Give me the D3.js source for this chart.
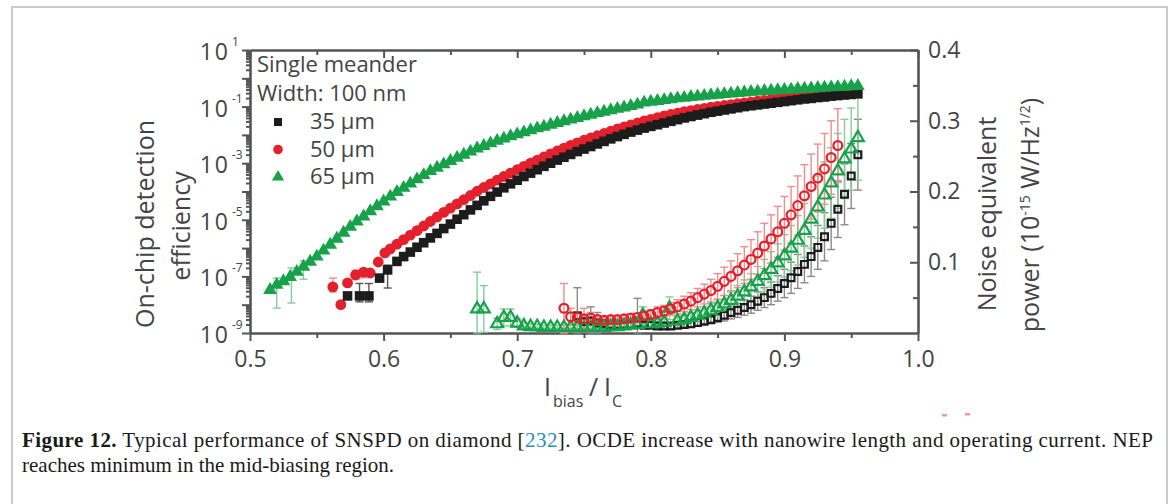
<!DOCTYPE html>
<html>
<head>
<meta charset="utf-8">
<script src="https://cdn.jsdelivr.net/npm/d3@7"></script>
<style>
  body { margin: 0; background: #fff; }
  svg { display: block; }
</style>
</head>
<body>
<script>
// on-chip detection efficiency: [I_bias/I_c, log10(OCDE)]
const effGreen = [[0.515,-7.48],[0.520,-7.30],[0.525,-7.17],[0.530,-7.02],[0.535,-6.84],[0.540,-6.66],[0.545,-6.48],[0.550,-6.30],[0.555,-6.09],[0.560,-5.88],[0.565,-5.67],[0.570,-5.46],[0.575,-5.25],[0.580,-5.06],[0.585,-4.88],[0.590,-4.70],[0.595,-4.52],[0.600,-4.35],[0.605,-4.18],[0.610,-4.02],[0.615,-3.87],[0.620,-3.72],[0.625,-3.57],[0.630,-3.42],[0.635,-3.28],[0.640,-3.16],[0.645,-3.04],[0.650,-2.92],[0.655,-2.81],[0.660,-2.70],[0.665,-2.59],[0.670,-2.48],[0.675,-2.39],[0.680,-2.30],[0.685,-2.21],[0.690,-2.13],[0.695,-2.05],[0.700,-1.98],[0.705,-1.91],[0.710,-1.84],[0.715,-1.77],[0.720,-1.71],[0.725,-1.64],[0.730,-1.58],[0.735,-1.52],[0.740,-1.46],[0.745,-1.40],[0.750,-1.34],[0.755,-1.29],[0.760,-1.23],[0.765,-1.18],[0.770,-1.13],[0.775,-1.08],[0.780,-1.03],[0.785,-0.98],[0.790,-0.93],[0.795,-0.86],[0.800,-0.83],[0.805,-0.80],[0.810,-0.77],[0.815,-0.74],[0.820,-0.71],[0.825,-0.69],[0.830,-0.66],[0.835,-0.64],[0.840,-0.62],[0.845,-0.60],[0.850,-0.58],[0.855,-0.56],[0.860,-0.54],[0.865,-0.52],[0.870,-0.50],[0.875,-0.48],[0.880,-0.47],[0.885,-0.45],[0.890,-0.44],[0.895,-0.42],[0.900,-0.41],[0.905,-0.40],[0.910,-0.38],[0.915,-0.37],[0.920,-0.36],[0.925,-0.34],[0.930,-0.33],[0.935,-0.32],[0.940,-0.31],[0.945,-0.30],[0.950,-0.28],[0.955,-0.27]];
const effRed = [[0.562,-7.37],[0.568,-8.00],[0.573,-7.23],[0.579,-6.95],[0.585,-6.85],[0.590,-6.88],[0.596,-6.49],[0.601,-6.17],[0.605,-6.03],[0.610,-5.86],[0.615,-5.70],[0.620,-5.54],[0.625,-5.38],[0.630,-5.22],[0.635,-5.06],[0.640,-4.90],[0.645,-4.74],[0.650,-4.59],[0.655,-4.44],[0.660,-4.29],[0.665,-4.14],[0.670,-3.99],[0.675,-3.86],[0.680,-3.73],[0.685,-3.60],[0.690,-3.47],[0.695,-3.35],[0.700,-3.23],[0.705,-3.11],[0.710,-3.00],[0.715,-2.89],[0.720,-2.78],[0.725,-2.67],[0.730,-2.57],[0.735,-2.47],[0.740,-2.37],[0.745,-2.28],[0.750,-2.19],[0.755,-2.11],[0.760,-2.03],[0.765,-1.95],[0.770,-1.87],[0.775,-1.79],[0.780,-1.72],[0.785,-1.65],[0.790,-1.58],[0.795,-1.51],[0.800,-1.45],[0.805,-1.39],[0.810,-1.33],[0.815,-1.28],[0.820,-1.23],[0.825,-1.18],[0.830,-1.14],[0.835,-1.10],[0.840,-1.06],[0.845,-1.02],[0.850,-0.99],[0.855,-0.96],[0.860,-0.93],[0.865,-0.90],[0.870,-0.87],[0.875,-0.84],[0.880,-0.81],[0.885,-0.78],[0.890,-0.75],[0.895,-0.72],[0.900,-0.69],[0.905,-0.67],[0.910,-0.65],[0.915,-0.63],[0.920,-0.61],[0.925,-0.59],[0.930,-0.57],[0.935,-0.56],[0.940,-0.54],[0.945,-0.53]];
const effBlack = [[0.573,-7.69],[0.582,-7.69],[0.589,-7.69],[0.597,-7.06],[0.603,-6.77],[0.610,-6.47],[0.615,-6.30],[0.620,-6.14],[0.625,-5.97],[0.630,-5.81],[0.635,-5.64],[0.640,-5.48],[0.645,-5.31],[0.650,-5.15],[0.655,-4.98],[0.660,-4.82],[0.665,-4.65],[0.670,-4.49],[0.675,-4.33],[0.680,-4.17],[0.685,-4.02],[0.690,-3.87],[0.695,-3.73],[0.700,-3.60],[0.705,-3.47],[0.710,-3.35],[0.715,-3.23],[0.720,-3.11],[0.725,-3.00],[0.730,-2.89],[0.735,-2.79],[0.740,-2.69],[0.745,-2.59],[0.750,-2.50],[0.755,-2.41],[0.760,-2.32],[0.765,-2.23],[0.770,-2.14],[0.775,-2.06],[0.780,-1.98],[0.785,-1.90],[0.790,-1.83],[0.795,-1.76],[0.800,-1.70],[0.805,-1.64],[0.810,-1.58],[0.815,-1.52],[0.820,-1.46],[0.825,-1.40],[0.830,-1.35],[0.835,-1.30],[0.840,-1.25],[0.845,-1.20],[0.850,-1.16],[0.855,-1.12],[0.860,-1.08],[0.865,-1.04],[0.870,-1.00],[0.875,-0.97],[0.880,-0.94],[0.885,-0.91],[0.890,-0.88],[0.895,-0.85],[0.900,-0.82],[0.905,-0.79],[0.910,-0.76],[0.915,-0.73],[0.920,-0.71],[0.925,-0.68],[0.930,-0.66],[0.935,-0.63],[0.940,-0.61],[0.945,-0.59],[0.950,-0.57],[0.955,-0.55]];

// efficiency error bars: [x, log10 low, log10 high]
const effErrGreen = [[0.520,-8.12,-7.06],[0.531,-7.94,-6.70],[0.540,-7.10,-6.45]];
const effErrRed = [[0.562,-7.55,-7.06],[0.579,-7.10,-6.78],[0.585,-7.05,-6.74]];
const effErrBlack = [[0.582,-7.90,-7.25],[0.589,-7.90,-7.25],[0.603,-7.41,-6.60]];

// noise equivalent power (1e-15 W/Hz^1/2): [x, NEP, error]
const nepGreen = [[0.670,0.034,0.052],[0.675,0.034,0.033],[0.685,0.013,0.008],[0.690,0.022,0.012],[0.695,0.022,0.012],[0.700,0.014,0.006],[0.705,0.010,0.004],[0.710,0.009,0.004],[0.715,0.009,0.003],[0.720,0.008,0.003],[0.725,0.008,0.003],[0.730,0.008,0.003],[0.735,0.008,0.003],[0.740,0.008,0.003],[0.745,0.008,0.003],[0.750,0.008,0.003],[0.755,0.008,0.003],[0.760,0.008,0.003],[0.765,0.008,0.003],[0.770,0.009,0.003],[0.775,0.009,0.003],[0.780,0.010,0.004],[0.785,0.011,0.004],[0.790,0.012,0.004],[0.794,0.025,0.012],[0.800,0.013,0.004],[0.805,0.014,0.005],[0.810,0.015,0.005],[0.814,0.035,0.016],[0.820,0.017,0.006],[0.825,0.019,0.006],[0.830,0.022,0.007],[0.835,0.025,0.008],[0.840,0.028,0.009],[0.845,0.032,0.010],[0.850,0.036,0.011],[0.855,0.041,0.012],[0.860,0.046,0.014],[0.865,0.052,0.015],[0.870,0.058,0.017],[0.875,0.065,0.019],[0.880,0.073,0.021],[0.885,0.081,0.023],[0.890,0.090,0.025],[0.895,0.099,0.027],[0.900,0.109,0.030],[0.905,0.120,0.032],[0.910,0.131,0.035],[0.915,0.145,0.038],[0.920,0.161,0.041],[0.925,0.178,0.044],[0.930,0.195,0.047],[0.935,0.212,0.050],[0.940,0.229,0.053],[0.945,0.246,0.056],[0.950,0.260,0.058],[0.955,0.276,0.060]];
const nepRed = [[0.735,0.035,0.035],[0.740,0.023,0.012],[0.745,0.022,0.008],[0.750,0.020,0.015],[0.755,0.021,0.008],[0.760,0.019,0.006],[0.765,0.018,0.005],[0.770,0.019,0.005],[0.775,0.019,0.005],[0.780,0.020,0.005],[0.785,0.021,0.006],[0.790,0.022,0.006],[0.795,0.024,0.007],[0.800,0.026,0.007],[0.805,0.029,0.008],[0.810,0.031,0.008],[0.815,0.034,0.009],[0.820,0.037,0.010],[0.825,0.041,0.011],[0.830,0.045,0.012],[0.835,0.050,0.013],[0.840,0.055,0.014],[0.845,0.060,0.016],[0.850,0.066,0.018],[0.855,0.073,0.020],[0.860,0.080,0.022],[0.865,0.088,0.024],[0.870,0.096,0.026],[0.875,0.104,0.028],[0.880,0.113,0.030],[0.885,0.123,0.032],[0.890,0.133,0.034],[0.895,0.143,0.036],[0.900,0.155,0.038],[0.905,0.167,0.040],[0.910,0.180,0.042],[0.915,0.194,0.044],[0.920,0.207,0.046],[0.925,0.219,0.048],[0.930,0.232,0.050],[0.935,0.248,0.052],[0.940,0.265,0.052]];
const nepBlack = [[0.745,0.024,0.040],[0.750,0.016,0.010],[0.755,0.017,0.020],[0.760,0.014,0.015],[0.765,0.013,0.005],[0.770,0.012,0.004],[0.775,0.012,0.004],[0.780,0.012,0.004],[0.785,0.012,0.004],[0.790,0.014,0.035],[0.795,0.011,0.004],[0.800,0.011,0.004],[0.805,0.010,0.004],[0.810,0.010,0.004],[0.815,0.010,0.004],[0.820,0.011,0.004],[0.825,0.012,0.004],[0.830,0.013,0.005],[0.835,0.015,0.005],[0.840,0.017,0.006],[0.845,0.019,0.006],[0.850,0.022,0.007],[0.855,0.025,0.008],[0.860,0.029,0.009],[0.865,0.032,0.010],[0.870,0.036,0.011],[0.875,0.040,0.012],[0.880,0.045,0.013],[0.885,0.050,0.014],[0.890,0.056,0.016],[0.895,0.063,0.018],[0.900,0.070,0.020],[0.905,0.078,0.022],[0.910,0.087,0.024],[0.915,0.097,0.026],[0.920,0.108,0.028],[0.925,0.121,0.031],[0.930,0.136,0.034],[0.935,0.155,0.037],[0.940,0.175,0.040],[0.945,0.196,0.043],[0.950,0.222,0.046],[0.955,0.252,0.050]];

const xTicks = [0.5, 0.6, 0.7, 0.8, 0.9, 1.0];
const xMinor = [0.55, 0.65, 0.75, 0.85, 0.95];
const effLabelExps = [1, -1, -3, -5, -7, -9];
const nepTicks = [0.1, 0.2, 0.3, 0.4];
const nepMinor = [0.05, 0.15, 0.25, 0.35];
const legendLabels = ["35 \u00b5m", "50 \u00b5m", "65 \u00b5m"];

const W = 1171, H = 504;
const plotL = 250, plotR = 918, plotT = 50, plotB = 333;
const axisCol = "#555", textCol = "#444";
const cBlack = "#1c1c1c", cRed = "#e3202b", cGreen = "#17a24a";
const eBlack = "#8a8a8a", eRed = "#f08c8c", eGreen = "#86cc98";
const sansFont = "'Open Sans', 'Noto Sans', sans-serif";

const svg = d3.select("body").append("svg")
    .attr("width", W)
    .attr("height", H);

// page frame
svg.append("rect")
    .attr("x", 12).attr("y", 7)
    .attr("width", 1155).attr("height", 530)
    .attr("fill", "none")
    .attr("stroke", "#cbcbcb")
    .attr("stroke-width", 2);

let x = d3.scaleLinear().domain([0.5, 1.0]).range([plotL, plotR]);
let yEff = d3.scaleLog().domain([1e-9, 1e1]).range([plotB, plotT]);
let yNep = d3.scaleLinear().domain([0, 0.4]).range([plotB, plotT]);

function styleAxis(g, keepDomain) {
    if (keepDomain) g.select(".domain").attr("stroke", axisCol).attr("stroke-width", 2.6);
    else g.select(".domain").remove();
    g.selectAll(".tick line").attr("stroke", axisCol).attr("stroke-width", 2);
    g.selectAll(".tick text").attr("fill", textCol)
        .style("font-family", sansFont).style("font-size", "23px");
}

// bottom axis
svg.append("g").attr("transform", `translate(0,${plotB})`)
    .call(d3.axisBottom(x).tickValues(xTicks).tickSize(8).tickSizeOuter(0)
        .tickPadding(10).tickFormat(d3.format(".1f")))
    .call(g => styleAxis(g, true));
svg.append("g").attr("transform", `translate(0,${plotB})`)
    .call(d3.axisBottom(x).tickValues(xMinor).tickSize(5).tickFormat(""))
    .call(g => styleAxis(g, false));

// top axis, ticks inward
svg.append("g").attr("transform", `translate(0,${plotT})`)
    .call(d3.axisTop(x).tickValues(xTicks).tickSize(-8).tickSizeOuter(0).tickFormat(""))
    .call(g => styleAxis(g, true));
svg.append("g").attr("transform", `translate(0,${plotT})`)
    .call(d3.axisTop(x).tickValues(xMinor).tickSize(-5).tickFormat(""))
    .call(g => styleAxis(g, false));

// left log axis
let decades = d3.range(-9, 2).map(e => Math.pow(10, e));
let effMinor = [];
decades.slice(0, -1).forEach(d => { for (let k = 2; k <= 9; k++) effMinor.push(d * k); });
svg.append("g").attr("transform", `translate(${plotL},0)`)
    .call(d3.axisLeft(yEff).tickValues(decades).tickSize(8).tickSizeOuter(0).tickFormat(""))
    .call(g => styleAxis(g, true));
svg.append("g").attr("transform", `translate(${plotL},0)`)
    .call(d3.axisLeft(yEff).tickValues(effMinor).tickSize(4).tickFormat(""))
    .call(g => styleAxis(g, false));

let effLab = svg.append("g").attr("fill", textCol).style("font-family", sansFont);
effLabelExps.forEach(e => {
    let yy = yEff(Math.pow(10, e));
    effLab.append("text").attr("x", 230).attr("y", yy + 10)
        .attr("text-anchor", "end").style("font-size", "23px")
        .style("letter-spacing", "2px").text("10");
    effLab.append("text").attr("x", 232).attr("y", yy - 4)
        .style("font-size", "12px").text(e === 1 ? "1" : "-" + Math.abs(e));
});

// right linear axis, ticks inward
svg.append("g").attr("transform", `translate(${plotR},0)`)
    .call(d3.axisRight(yNep).tickValues(nepTicks).tickSize(-8).tickSizeOuter(0)
        .tickPadding(10).tickFormat(d3.format(".1f")))
    .call(g => styleAxis(g, true));
svg.append("g").attr("transform", `translate(${plotR},0)`)
    .call(d3.axisRight(yNep).tickValues(nepMinor).tickSize(-5).tickFormat(""))
    .call(g => styleAxis(g, false));

// series helpers
const sym = (type, size) => d3.symbol().type(type).size(size);

function effErrors(data, col) {
    let g = svg.append("g").attr("stroke", col).attr("stroke-width", 1.4).attr("fill", "none");
    data.forEach(d => {
        let cx = x(d[0]), y0 = yEff(Math.pow(10, d[1])), y1 = yEff(Math.pow(10, d[2]));
        g.append("line").attr("x1", cx).attr("x2", cx).attr("y1", y0).attr("y2", y1);
        g.append("line").attr("x1", cx - 4).attr("x2", cx + 4).attr("y1", y0).attr("y2", y0);
        g.append("line").attr("x1", cx - 4).attr("x2", cx + 4).attr("y1", y1).attr("y2", y1);
    });
}

function effSeries(data, type, size, col) {
    svg.append("g").selectAll("path")
        .data(data)
        .enter()
        .append("path")
        .attr("d", sym(type, size))
        .attr("transform", d => `translate(${x(d[0])},${yEff(Math.pow(10, d[1]))})`)
        .attr("fill", col);
}

function nepErrors(data, col) {
    let g = svg.append("g").attr("stroke", col).attr("stroke-width", 1.4).attr("fill", "none");
    data.forEach(d => {
        let cx = x(d[0]), y0 = yNep(Math.max(d[1] - d[2], 0)), y1 = yNep(d[1] + d[2]);
        g.append("line").attr("x1", cx).attr("x2", cx).attr("y1", y0).attr("y2", y1);
        g.append("line").attr("x1", cx - 4).attr("x2", cx + 4).attr("y1", y1).attr("y2", y1);
        g.append("line").attr("x1", cx - 4).attr("x2", cx + 4).attr("y1", y0).attr("y2", y0);
    });
}

function nepSeries(data, type, size, col) {
    svg.append("g").selectAll("path")
        .data(data)
        .enter()
        .append("path")
        .attr("d", sym(type, size))
        .attr("transform", d => `translate(${x(d[0])},${yNep(d[1])})`)
        .attr("fill", "none")
        .attr("stroke", col)
        .attr("stroke-width", 2.2);
}

// NEP (open markers)
nepErrors(nepBlack, eBlack);
nepErrors(nepGreen, eGreen);
nepErrors(nepRed, eRed);
nepSeries(nepBlack, d3.symbolSquare, 46, cBlack);
nepSeries(nepGreen, d3.symbolTriangle, 62, cGreen);
nepSeries(nepRed, d3.symbolCircle, 62, cRed);

// OCDE (filled markers)
effErrors(effErrGreen, eGreen);
effErrors(effErrRed, eRed);
effErrors(effErrBlack, "#555");
effSeries(effRed, d3.symbolCircle, 92, cRed);
effSeries(effBlack, d3.symbolSquare, 92, cBlack);
effSeries(effGreen, d3.symbolTriangle, 82, cGreen);

// legend
let leg = svg.append("g").attr("fill", textCol).style("font-family", sansFont).style("font-size", "22px");
leg.append("text").attr("x", 257).attr("y", 72).text("Single meander");
leg.append("text").attr("x", 257).attr("y", 101).text("Width: 100 nm");
const legSyms = [[d3.symbolSquare, 64, cBlack], [d3.symbolCircle, 72, cRed], [d3.symbolTriangle, 64, cGreen]];
legendLabels.forEach((lab, i) => {
    let yy = 122 + i * 27.5;
    svg.append("path").attr("d", sym(legSyms[i][0], legSyms[i][1]))
        .attr("transform", `translate(278,${yy})`).attr("fill", legSyms[i][2]);
    leg.append("text").attr("x", 310).attr("y", yy + 7).text(lab);
});

// axis titles
let titles = svg.append("g").attr("fill", textCol).style("font-family", sansFont).style("font-size", "25px");
titles.append("text").attr("transform", "translate(145,224) rotate(-90)")
    .attr("text-anchor", "middle").attr("dy", "0.35em").text("On-chip detection");
titles.append("text").attr("transform", "translate(181,226) rotate(-90)")
    .attr("text-anchor", "middle").attr("dy", "0.35em").text("efficiency");
titles.append("text").attr("transform", "translate(987,214) rotate(-90)")
    .attr("text-anchor", "middle").attr("dy", "0.35em").text("Noise equivalent");
let pw = titles.append("text").attr("transform", "translate(1030,215) rotate(-90)")
    .attr("text-anchor", "middle").attr("dy", "0.35em");
pw.append("tspan").text("power (10");
pw.append("tspan").attr("dy", -9).style("font-size", "14px").text("-15");
pw.append("tspan").attr("dy", 9).text(" W/Hz");
pw.append("tspan").attr("dy", -9).style("font-size", "14px").text("1/2");
pw.append("tspan").attr("dy", 9).text(")");

let xl = titles.append("text").attr("y", 396);
xl.append("tspan").attr("x", 544).text("I");
xl.append("tspan").attr("x", 553).attr("dy", 11).style("font-size", "16px").text("bias");
xl.append("tspan").attr("x", 589).attr("dy", -11).text("/");
xl.append("tspan").attr("x", 604).text("I");
xl.append("tspan").attr("x", 612).attr("dy", 11).style("font-size", "16px").text("C");

// stray marks below the plot
svg.append("rect").attr("x", 942).attr("y", 414).attr("width", 5).attr("height", 2.5).attr("fill", "#f19a9a");
svg.append("rect").attr("x", 965).attr("y", 413).attr("width", 5).attr("height", 2.5).attr("fill", "#f19a9a");

// caption
let cap = svg.append("g").attr("fill", "#1a1a1a")
    .style("font-family", "'Liberation Serif', 'DejaVu Serif', serif").style("font-size", "21px");
let l1 = cap.append("text").attr("x", 22).attr("y", 447)
    .attr("textLength", 1131).attr("lengthAdjust", "spacing");
l1.append("tspan").style("font-weight", "bold").text("Figure 12.");
l1.append("tspan").text(" Typical performance of SNSPD on diamond [");
l1.append("tspan").attr("fill", "#2b8cc4").text("232");
l1.append("tspan").text("]. OCDE increase with nanowire length and operating current. NEP");
cap.append("text").attr("x", 22).attr("y", 472)
    .text("reaches minimum in the mid-biasing region.");
</script>
</body>
</html>
